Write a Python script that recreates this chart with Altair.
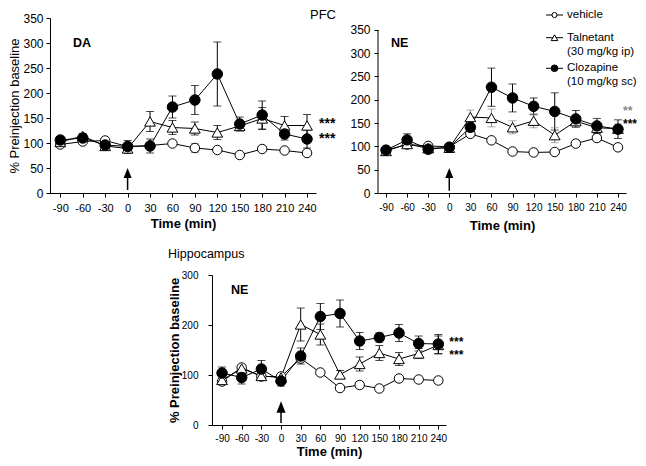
import altair as alt
import pandas as pd

# ---------------- data ----------------
TIME = [-90, -60, -30, 0, 30, 60, 90, 120, 150, 180, 210, 240]
SERIES = ["vehicle", "Talnetant", "Clozapine"]
LEGEND_TEXT = {"vehicle": ["vehicle"],
               "Talnetant": ["Talnetant", "(30 mg/kg ip)"],
               "Clozapine": ["Clozapine", "(10 mg/kg sc)"]}

# PFC - DA
DA_VEH = [97, 103, 105, 93, 95, 99, 90, 86, 76, 88, 85, 80]
DA_VEH_E = [4, 4, 4, 6, 4, 4, 8, 4, 4, 4, 4, 4]
DA_TAL = [102, 114, 94, 89, 143, 131, 129, 121, 134, 149, 135, 135]
DA_TAL_E = [5, 5, 6, 10, 20, 14, 13, 14, 9, 22, 18, 22]
DA_CLZ = [106, 110, 96, 93, 94, 172, 186, 238, 138, 156, 118, 108]
DA_CLZ_E = [6, 6, 8, 12, 14, 22, 29, 64, 14, 28, 12, 18]

# PFC - NE
NE_VEH = [92, 104, 101, 99, 127, 113, 89, 87, 88, 106, 118, 98]
NE_VEH_E = [4, 4, 4, 4, 6, 4, 3, 3, 3, 6, 6, 3]
NE_TAL = [90, 105, 96, 97, 163, 161, 141, 155, 124, 154, 140, 138]
NE_TAL_E = [4, 5, 5, 5, 15, 19, 14, 15, 16, 10, 10, 10]
NE_CLZ = [92, 114, 94, 98, 141, 227, 204, 186, 175, 159, 144, 137]
NE_CLZ_E = [5, 13, 6, 5, 15, 41, 30, 18, 40, 18, 16, 20]

# Hippocampus - NE
HI_VEH = [87, 115, 97, 97, 133, 105, 74, 80, 73, 93, 91, 89]
HI_VEH_E = [6, 5, 5, 5, 6, 4, 5, 6, 5, 6, 4, 6]
HI_TAL = [90, 113, 98, 95, 201, 181, 101, 122, 144, 132, 143, 160]
HI_TAL_E = [6, 6, 6, 6, 33, 21, 8, 14, 15, 13, 10, 18]
HI_CLZ = [104, 95, 112, 88, 138, 217, 223, 168, 175, 184, 163, 162]
HI_CLZ_E = [12, 13, 17, 10, 16, 26, 27, 17, 9, 17, 15, 19]

# significance marks (value level, text, colour)
DA_AST = [(139, "***", "black"), (109, "***", "black")]
NE_AST = [(176, "**", "#888888"), (148, "***", "black")]
HI_AST = [(166, "***", "black"), (140, "***", "black")]

# injection arrow (shaft bottom, shaft top, head centre) at time of injection
INJ_T = 0
DA_ARROW = (6, 32, 40)
NE_ARROW = (5, 34, 43)
HI_ARROW = (4, 26, 36)

FONT = "Liberation Sans"

# marker styles: (shape, fill, size in plot, size in legend)
STYLES = {"vehicle": ("circle", "white", 90, 26),
          "Talnetant": ("triangle-up", "white", 115, 45),
          "Clozapine": ("circle", "black", 110, 44)}


def make_df(veh, veh_e, tal, tal_e, clz, clz_e):
    recs = []
    for name, vals, errs in ((SERIES[0], veh, veh_e), (SERIES[1], tal, tal_e), (SERIES[2], clz, clz_e)):
        for t, v, e in zip(TIME, vals, errs):
            recs.append({"t": t, "s": name, "v": v, "lo": v - e, "hi": v + e})
    return pd.DataFrame(recs)


ARROW_SHAPE = "M0,-1L0.8,1L-0.8,1Z"
XLABEL_EXPR = "datum.value < 0 ? '-' + abs(datum.value) : '' + datum.value"

# legend layout inside the NE (PFC) panel, pixel offsets from that panel's plot origin
LEG_X0, LEG_X1, LEG_TX = 168, 185, 189
LEG_ROW_Y = [-3, 19.7, 50.3]
LEG_LINE_H = 14
LEG_FS = 11.5


def panel(cfg):
    df = cfg["df"]
    xs = alt.Scale(domain=cfg["xdom"], nice=False, zero=False)
    ys = alt.Scale(domain=cfg["ydom"], nice=False, zero=False)
    xa = alt.Axis(values=TIME, labelFontSize=cfg["xlab"], labelPadding=cfg["xpad"],
                  titlePadding=cfg["xtpad"], tickSize=4, labelOverlap=False, labelFlush=False,
                  grid=False, titleFontSize=13, titleFontWeight="bold", labelExpr=XLABEL_EXPR)
    ya = alt.Axis(values=cfg["yvals"], labelFontSize=cfg["ylab"], labelPadding=cfg["ypad"],
                  titlePadding=cfg["ytpad"], tickSize=4, grid=False, domain=cfg["ydomline"],
                  titleFontSize=13, titleFontWeight=cfg["ytw"], labelOverlap=False, labelFlush=False)

    def X(f="t"):
        return alt.X(f"{f}:Q", scale=xs, axis=xa, title="Time (min)")

    def Y(f):
        return alt.Y(f"{f}:Q", scale=ys, axis=ya, title=cfg["ytitle"])

    C = alt.Color("s:N", scale=alt.Scale(domain=SERIES, range=cfg["errcol"]), legend=None)
    base = alt.Chart(df)
    layers = []
    if not cfg["ydomline"]:
        ax_df = pd.DataFrame({"lo": [cfg["yvals"][0]], "hi": [cfg["yvals"][-1]]})
        layers.append(alt.Chart(ax_df).mark_rule(color="black", strokeWidth=1).encode(
            x=alt.value(0), y=Y("lo"), y2=alt.Y2("hi:Q")))
    layers.append(base.mark_line(color="black", strokeWidth=1).encode(x=X(), y=Y("v"), detail="s:N"))
    layers.append(base.mark_rule(strokeWidth=1).encode(x=X(), y=Y("lo"), y2=alt.Y2("hi:Q"), color=C))
    layers.append(base.mark_tick(orient="horizontal", size=8, thickness=1).encode(x=X(), y=Y("lo"), color=C))
    layers.append(base.mark_tick(orient="horizontal", size=8, thickness=1).encode(x=X(), y=Y("hi"), color=C))
    for s in SERIES:
        shape, fill, size, _ = STYLES[s]
        layers.append(base.transform_filter(alt.datum.s == s).mark_point(
            shape=shape, filled=True, color=fill, stroke="black", strokeWidth=1, size=size, opacity=1
        ).encode(x=X(), y=Y("v")))
    lo, hi, head = cfg["arrow"]
    adf = pd.DataFrame({"t": [INJ_T], "lo": [lo], "hi": [hi], "head": [head]})
    layers.append(alt.Chart(adf).mark_rule(color="black", strokeWidth=1.5).encode(
        x=X(), y=Y("lo"), y2=alt.Y2("hi:Q")))
    layers.append(alt.Chart(adf).mark_point(shape=ARROW_SHAPE, filled=True, color="black",
                                            size=cfg["headsize"], strokeWidth=0, opacity=1).encode(
        x=X(), y=Y("head")))
    for v, txt, col in cfg["ast"]:
        sdf = pd.DataFrame({"t": [TIME[-1]], "v": [v], "txt": [txt]})
        layers.append(alt.Chart(sdf).mark_text(align="left", baseline="middle", dx=cfg["astdx"],
                                               fontSize=cfg["astfs"], fontWeight="bold", color=col).encode(
            x=X(), y=Y("v"), text="txt:N"))
    for txt, px, py, fs, fw, al in cfg["texts"]:
        tdf = pd.DataFrame({"txt": [txt]})
        layers.append(alt.Chart(tdf).mark_text(align=al, baseline="middle", fontSize=fs, fontWeight=fw,
                                               color="black").encode(
            x=alt.value(px), y=alt.value(py), text="txt:N"))
    if cfg.get("legend"):
        for i, s in enumerate(SERIES):
            shape, fill, _, lsize = STYLES[s]
            ry = LEG_ROW_Y[i]
            ldf = pd.DataFrame({"s": [s]})
            layers.append(alt.Chart(ldf).mark_rule(color="black", strokeWidth=1).encode(
                x=alt.value(LEG_X0), x2=alt.value(LEG_X1), y=alt.value(ry)))
            layers.append(alt.Chart(ldf).mark_point(shape=shape, filled=True, color=fill, stroke="black",
                                                    strokeWidth=1, size=lsize, opacity=1).encode(
                x=alt.value((LEG_X0 + LEG_X1) / 2), y=alt.value(ry)))
            for j, line in enumerate(LEGEND_TEXT[s]):
                tdf = pd.DataFrame({"txt": [line]})
                layers.append(alt.Chart(tdf).mark_text(align="left", baseline="middle", fontSize=LEG_FS,
                                                       color="black").encode(
                    x=alt.value(LEG_TX), y=alt.value(ry + j * LEG_LINE_H), text="txt:N"))
    return alt.layer(*layers).properties(width=cfg["w"], height=cfg["h"])


P1 = dict(df=make_df(DA_VEH, DA_VEH_E, DA_TAL, DA_TAL_E, DA_CLZ, DA_CLZ_E),
          xdom=[-103.8, 252], ydom=[0, 350], yvals=[0, 50, 100, 150, 200, 250, 300, 350],
          w=266, h=175, xlab=11, xpad=5, xtpad=4, ylab=12, ypad=3, ytpad=1, ydomline=True,
          ytw="normal", ytitle="% Preinjection baseline", errcol=["black", "black", "black"],
          arrow=DA_ARROW, headsize=100, ast=DA_AST, astdx=12, astfs=14,
          texts=[("DA", 23, 25, 12.5, "bold", "left"), ("PFC", 273, -3.5, 13, "normal", "center")])
P2 = dict(df=make_df(NE_VEH, NE_VEH_E, NE_TAL, NE_TAL_E, NE_CLZ, NE_CLZ_E),
          xdom=[-101.4, 251.4], ydom=[0, 375.5], yvals=[0, 50, 100, 150, 200, 250, 300, 350],
          w=248, h=175, xlab=10, xpad=5, xtpad=7, ylab=12, ypad=4, ytpad=1, ydomline=False,
          ytw="normal", ytitle=None, errcol=["black", "#888888", "black"],
          arrow=NE_ARROW, headsize=100, ast=NE_AST, astdx=5, astfs=12,
          texts=[("NE", 13, 25, 12.5, "bold", "left")], legend=True)
P3 = dict(df=make_df(HI_VEH, HI_VEH_E, HI_TAL, HI_TAL_E, HI_CLZ, HI_CLZ_E),
          xdom=[-105.3, 251.7], ydom=[0, 300], yvals=[0, 100, 200, 300],
          w=234, h=150, xlab=10, xpad=4, xtpad=2.5, ylab=10, ypad=10, ytpad=0, ydomline=True,
          ytw="bold", ytitle="% Preinjection baseline", errcol=["black", "black", "black"],
          arrow=HI_ARROW, headsize=130, ast=HI_AST, astdx=11, astfs=12,
          texts=[("NE", 19, 15, 12.5, "bold", "left"), ("Hippocampus", -44, -21, 12.5, "normal", "left")])

# bottom panel is shifted right by (spacer width + spacing) from the first panel's plot origin
SPACER_W = 100
BOTTOM_SHIFT = 162
spacer = alt.Chart(pd.DataFrame({"a": [0]})).mark_rule(opacity=0).encode(
    x=alt.value(0), x2=alt.value(SPACER_W), y=alt.value(0)).properties(width=SPACER_W, height=10)

IND = dict(color="independent")
top = alt.hconcat(panel(P1), panel(P2), spacing=62, bounds="flush").resolve_scale(**IND)
bottom = alt.hconcat(spacer, panel(P3), spacing=BOTTOM_SHIFT - SPACER_W, bounds="flush").resolve_scale(**IND)

chart = alt.vconcat(top, bottom, spacing=14).resolve_scale(**IND).properties(padding=0).configure(
    font=FONT
).configure_view(stroke="transparent").configure_axis(
    labelColor="black", titleColor="black", tickColor="black", domainColor="black",
    labelFont=FONT, titleFont=FONT, tickWidth=1, domainWidth=1
)

chart.save("out.html", embed_options={"renderer": "svg", "actions": False})
